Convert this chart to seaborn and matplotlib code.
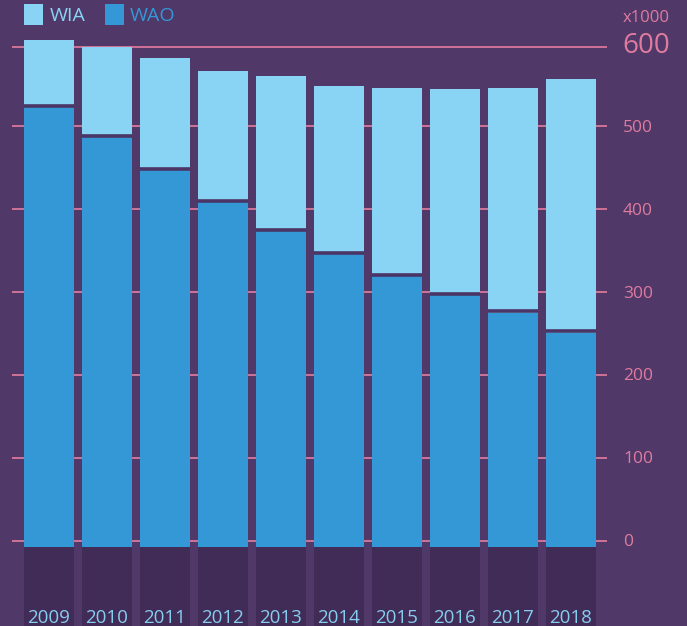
import matplotlib
matplotlib.use("Agg")
import matplotlib.pyplot as plt
import matplotlib.transforms as mtransforms
from matplotlib.patches import Patch
import seaborn as sns
import numpy as np
import pandas as pd

# ---- data (x1000) ----
years = ["2009", "2010", "2011", "2012", "2013", "2014", "2015", "2016", "2017", "2018"]
wao = [523, 487, 447, 408, 373, 346, 319, 296, 275, 251]
wia = [81, 108, 135, 159, 187, 203, 227, 249, 271, 306]
yticks = [0, 100, 200, 300, 400, 500]
ymax_label = "600"

BG = "#503868"
COL_DARK = "#402c56"
WIA_C = "#89d4f5"
WAO_C = "#3498d6"
PINK = "#d9789b"
PINK_T = "#e07b9f"
YEAR_C = "#87cdf0"
FONT = ["Open Sans", "DejaVu Sans"]

sns.set_theme(style="white")
plt.rcParams["font.family"] = FONT

W, H = 687, 626
PX = 0.829          # pixels per unit
Y0 = 540.7          # pixel row of zero
fig = plt.figure(figsize=(W / 100, H / 100), dpi=100, facecolor=BG)
ax = fig.add_axes([12 / W, 0, (607 - 12) / W, 1])
ax.set_facecolor(BG)

df = pd.DataFrame({"year": years, "WAO": wao, "WIA": wia})
df["total"] = df["WAO"] + df["WIA"]
base = -7
bw = 50 / 58

# dark columns below the baseline
sns.barplot(data=df, x="year", y=np.full(len(df), -120.0), bottom=base, color=COL_DARK,
            width=bw, saturation=1, ax=ax, zorder=2, linewidth=0)
# total (WIA on top)
sns.barplot(data=df, x="year", y=df["total"] - base, bottom=base, color=WIA_C,
            width=bw, saturation=1, ax=ax, zorder=2, linewidth=0)
# WAO
sns.barplot(data=df, x="year", y=df["WAO"] - base, bottom=base, color=WAO_C,
            width=bw, saturation=1, ax=ax, zorder=3, linewidth=0)

xs = np.arange(len(years))
ax.hlines(df["WAO"] + 1.5, xs - bw / 2, xs + bw / 2, color="#4a3566", lw=2.6, zorder=4)

# gridlines
for t in yticks:
    ax.axhline(t, color=PINK, lw=1.3, zorder=1)
top_val = (Y0 - 46.7) / PX
ax.axhline(top_val, color=PINK, lw=1.3, zorder=1)

ax.set_xlim((12 - 49) / 58, (607 - 49) / 58)
ax.set_ylim((Y0 - H) / PX, Y0 / PX)
ax.set_xticks([])
ax.set_yticks([])
ax.set_xlabel("")
ax.set_ylabel("")
for s in ax.spines.values():
    s.set_visible(False)

# y tick labels
trans_y = mtransforms.blended_transform_factory(fig.transFigure, ax.transData) + \
    mtransforms.ScaledTranslation(0, -1.5 / 100, fig.dpi_scale_trans)
for t in yticks:
    ax.text(623 / W, t, str(t), transform=trans_y, color=PINK_T, fontsize=12.5,
            ha="left", va="center", clip_on=False)
fig.text(622 / W, 1 - 46 / H, ymax_label, color=PINK_T, fontsize=20,
         ha="left", va="center")
fig.text(623 / W, 1 - 18 / H, "x1000", color=PINK_T, fontsize=12, ha="left", va="center")

# year labels
trans_x = mtransforms.blended_transform_factory(ax.transData, fig.transFigure)
for i, y in enumerate(years):
    ax.text(i, 1 - 618 / H, y, transform=trans_x, color=YEAR_C, fontsize=13.5,
            ha="center", va="center", clip_on=False)

# legend
handles = [Patch(facecolor=WIA_C, edgecolor="none", label="WIA"),
           Patch(facecolor=WAO_C, edgecolor="none", label="WAO")]
leg = fig.legend(handles=handles, loc="upper left", bbox_to_anchor=(24 / W, 1 - 4 / H),
                 ncol=2, frameon=False, fontsize=14, handlelength=1.0, handleheight=1.3,
                 handletextpad=0.3, columnspacing=1.0, borderpad=0, borderaxespad=0)
for txt, c in zip(leg.get_texts(), [WIA_C, WAO_C]):
    txt.set_color(c)

fig.savefig("out.png", dpi=100, facecolor=BG)
